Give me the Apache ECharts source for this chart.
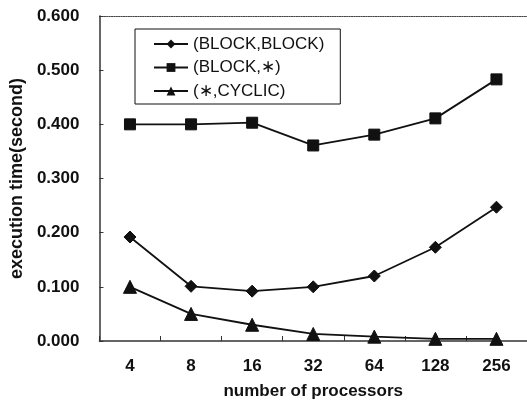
<!DOCTYPE html>
<html>
<head>
<meta charset="utf-8">
<script src="https://cdn.jsdelivr.net/npm/echarts@6/dist/echarts.min.js"></script>
<style>html,body{margin:0;padding:0;background:#fff;}#c{width:527px;height:407px;}</style>
</head>
<body>
<div id="c"></div>
<script>
var categories = ['4', '8', '16', '32', '64', '128', '256'];
var blockBlock = [0.192, 0.101, 0.092, 0.100, 0.120, 0.173, 0.247];
var blockStar = [0.400, 0.400, 0.403, 0.361, 0.381, 0.411, 0.483];
var starCyclic = [0.100, 0.050, 0.030, 0.013, 0.008, 0.004, 0.004];
var seriesNames = ['(BLOCK,BLOCK)', '(BLOCK,\u2217)', '(\u2217,CYCLIC)'];

var font = 'Liberation Sans, Arial, sans-serif';
var chart = echarts.init(document.getElementById('c'));
function mk(name, data, symbol, size) {
  return {
    name: name, type: 'line', data: data, symbol: symbol, symbolSize: size,
    xAxisIndex: 0,
    lineStyle: { color: '#111', width: 1.8 },
    itemStyle: { color: '#111', borderColor: '#111' },
    animation: false
  };
}
chart.setOption({
  animation: false,
  backgroundColor: '#fff',
  grid: { left: 98, right: -3, top: 16, bottom: 66 },
  legend: {
    orient: 'vertical', left: 135, top: 29,
    padding: [5, 16, 3, 18],
    itemWidth: 34, itemHeight: 11, itemGap: 3.5,
    borderColor: '#111', borderWidth: 1,
    textStyle: { fontFamily: font, fontSize: 17, color: '#111', lineHeight: 20 },
    data: seriesNames
  },
  xAxis: [{
    type: 'category', data: categories, boundaryGap: true,
    name: 'number of processors', nameLocation: 'middle', nameGap: 42,
    nameTextStyle: { fontFamily: font, fontSize: 17, fontWeight: 'bold', color: '#111' },
    axisLine: { lineStyle: { color: '#333', width: 1.5 } },
    axisTick: { show: true, inside: true, length: 5, lineStyle: { color: '#333' } },
    axisLabel: { fontFamily: font, fontSize: 17, fontWeight: 'bold', color: '#111', margin: 17 },
    splitLine: { show: false }
  }, {
    type: 'category', data: categories, position: 'top',
    axisLine: { show: true, lineStyle: { color: '#444', width: 1.2, type: 'dotted' } },
    axisTick: { show: false }, axisLabel: { show: false }, splitLine: { show: false }
  }],
  yAxis: {
    type: 'value', min: 0, max: 0.6, interval: 0.1,
    name: 'execution time(second)', nameLocation: 'middle', nameGap: 71,
    nameTextStyle: { fontFamily: font, fontSize: 18, fontWeight: 'bold', color: '#111' },
    axisLine: { show: true, lineStyle: { color: '#333', width: 1.5 } },
    axisTick: { show: true, inside: true, length: 4, lineStyle: { color: '#333' } },
    axisLabel: { fontFamily: font, fontSize: 17, fontWeight: 'bold', color: '#111', margin: 20,
      formatter: function (v) { return v.toFixed(3); } },
    splitLine: { show: false }
  },
  series: [
    mk(seriesNames[0], blockBlock, 'diamond', 12),
    mk(seriesNames[1], blockStar, 'rect', 11),
    mk(seriesNames[2], starCyclic, 'triangle', 13)
  ]
});
</script>
</body>
</html>
